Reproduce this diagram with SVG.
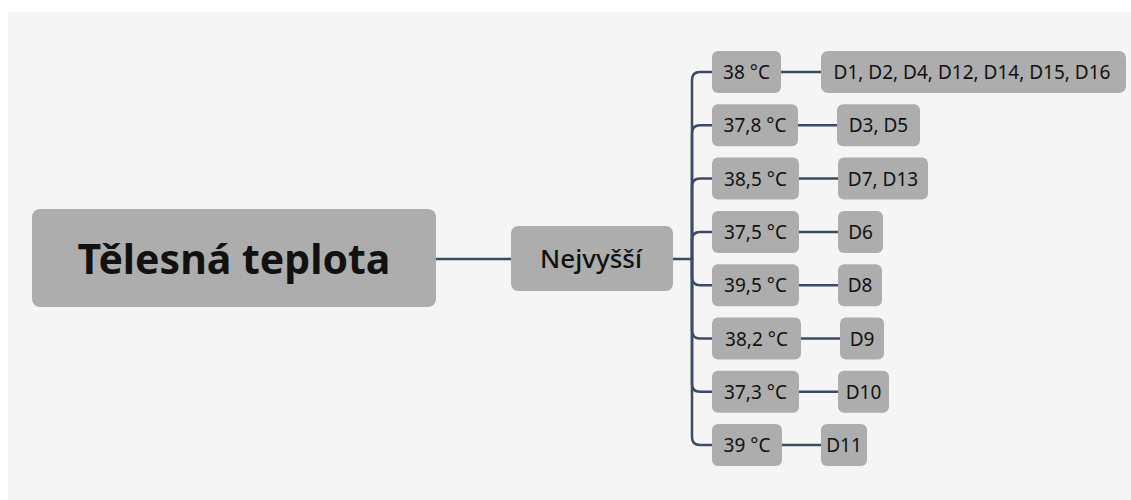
<svg xmlns="http://www.w3.org/2000/svg" width="1131" height="500" viewBox="0 0 1131 500">
  <style>
    .node rect { fill: #adadad; }
    .node text { font-family: "Noto Sans", "Open Sans", sans-serif; fill: #111111; text-anchor: middle; dominant-baseline: central; font-weight: 400; }
    .leaf text { font-size: 19px; }
    .conn { fill: none; stroke: #3b4b66; stroke-width: 2.5; stroke-linecap: round; }
  </style>
  <rect x="0" y="0" width="1131" height="500" fill="#ffffff"/>
  <rect x="8" y="12" width="1123" height="488" fill="#f5f5f5"/>

  <!-- connectors -->
  <g id="connectors">
    <path class="conn" d="M436,259 H511" stroke-width="3"/>
    <path class="conn" d="M673,259 H692"/>
    <path class="conn" d="M692,259 V80 Q692,72 700,72 H712"/>
    <path class="conn" d="M692,259 V133.3 Q692,125.3 700,125.3 H712"/>
    <path class="conn" d="M692,259 V186.6 Q692,178.6 700,178.6 H712"/>
    <path class="conn" d="M692,259 V239.9 Q692,231.9 700,231.9 H712"/>
    <path class="conn" d="M692,259 V277.2 Q692,285.2 700,285.2 H712"/>
    <path class="conn" d="M692,259 V330.5 Q692,338.5 700,338.5 H712"/>
    <path class="conn" d="M692,259 V383.8 Q692,391.8 700,391.8 H712"/>
    <path class="conn" d="M692,259 V437.1 Q692,445.1 700,445.1 H712"/>
    <path class="conn" d="M781,72 H821"/>
    <path class="conn" d="M798,125.3 H837"/>
    <path class="conn" d="M799,178.6 H838"/>
    <path class="conn" d="M799,231.9 H838"/>
    <path class="conn" d="M799,285.2 H838"/>
    <path class="conn" d="M801,338.5 H840"/>
    <path class="conn" d="M799,391.8 H838"/>
    <path class="conn" d="M782,445.1 H821"/>
  </g>

  <!-- root -->
  <g id="root" class="node">
    <rect x="32" y="209" width="404" height="98" rx="8"/>
    <text x="234" y="258" font-size="41" style="font-weight:bold">Tělesná teplota</text>
  </g>

  <g id="nejvyssi" class="node">
    <rect x="511" y="226" width="162" height="65" rx="7"/>
    <text x="591" y="258" font-size="26" style="font-weight:500">Nejvyšší</text>
  </g>

  <!-- temperatures -->
  <g id="t38" class="node leaf"><rect x="712" y="51" width="69" height="42" rx="6"/><text x="746.5" y="72">38 °C</text></g>
  <g id="t378" class="node leaf"><rect x="712" y="104.3" width="86" height="42" rx="6"/><text x="755" y="125.3">37,8 °C</text></g>
  <g id="t385" class="node leaf"><rect x="712" y="157.6" width="87" height="42" rx="6"/><text x="755.5" y="178.6">38,5 °C</text></g>
  <g id="t375" class="node leaf"><rect x="712" y="210.9" width="87" height="42" rx="6"/><text x="755.5" y="231.9">37,5 °C</text></g>
  <g id="t395" class="node leaf"><rect x="712" y="264.2" width="87" height="42" rx="6"/><text x="755.5" y="285.2">39,5 °C</text></g>
  <g id="t382" class="node leaf"><rect x="712" y="317.5" width="89" height="42" rx="6"/><text x="756.5" y="338.5">38,2 °C</text></g>
  <g id="t373" class="node leaf"><rect x="712" y="370.8" width="87" height="42" rx="6"/><text x="755.5" y="391.8">37,3 °C</text></g>
  <g id="t39" class="node leaf"><rect x="712" y="424.1" width="70" height="42" rx="6"/><text x="747" y="445.1">39 °C</text></g>

  <!-- patient groups -->
  <g id="d38" class="node leaf"><rect x="821" y="51" width="305" height="42" rx="7"/><text x="972" y="72">D1, D2, D4, D12, D14, D15, D16</text></g>
  <g id="d378" class="node leaf"><rect x="837" y="104.3" width="83" height="42" rx="6"/><text x="878.5" y="125.3">D3, D5</text></g>
  <g id="d385" class="node leaf"><rect x="838" y="157.6" width="90" height="42" rx="6"/><text x="883" y="178.6">D7, D13</text></g>
  <g id="d375" class="node leaf"><rect x="838" y="210.9" width="45" height="42" rx="6"/><text x="860.5" y="231.9">D6</text></g>
  <g id="d395" class="node leaf"><rect x="838" y="264.2" width="44" height="42" rx="6"/><text x="860" y="285.2">D8</text></g>
  <g id="d382" class="node leaf"><rect x="840" y="317.5" width="44" height="42" rx="6"/><text x="862" y="338.5">D9</text></g>
  <g id="d373" class="node leaf"><rect x="838" y="370.8" width="51" height="42" rx="6"/><text x="863.5" y="391.8">D10</text></g>
  <g id="d39" class="node leaf"><rect x="821" y="424.1" width="46" height="42" rx="6"/><text x="844" y="445.1">D11</text></g>
</svg>
